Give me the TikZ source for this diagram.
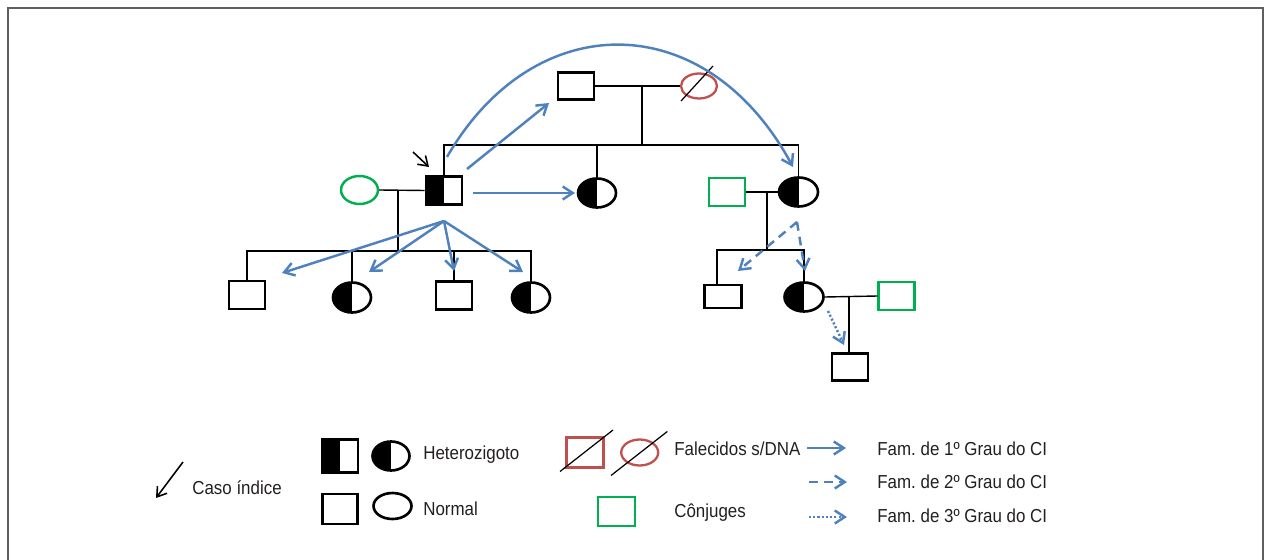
\documentclass[tikz,border=0pt]{standalone}
\usepackage{fontspec}
\setmainfont{Liberation Sans}[FakeStretch=0.9]
\usepackage{tikz}
\usetikzlibrary{positioning,shapes.geometric,arrows.meta}
\frenchspacing
\definecolor{relBlue}{RGB}{79,129,189}
\definecolor{deadRed}{RGB}{192,80,77}
\definecolor{spouseGreen}{RGB}{0,176,80}
\definecolor{frameGray}{RGB}{95,95,95}
\definecolor{textGray}{RGB}{35,31,32}
\tikzstyle{pedigree} = [x = 0.02cm, y = -0.02cm]
\tikzstyle{maleNode} = [rectangle, draw=black, fill=white, line width=1.5pt, inner sep=0pt, minimum width=0.72cm, minimum height=0.56cm]
\tikzstyle{femaleNode} = [ellipse, draw=black, fill=white, line width=1.5pt, inner sep=0pt, minimum width=0.74cm, minimum height=0.58cm]
\tikzstyle{carrier} = [path picture={\fill [black] (path picture bounding box.south west) rectangle (path picture bounding box.north);}]
\tikzstyle{spouse} = [draw=spouseGreen, line width=1.4pt]
\tikzstyle{deceased} = [draw=deadRed, line width=1.3pt]
\tikzstyle{lineage} = [color=black, line width=0.8pt]
\tikzstyle{slashLine} = [color=black, line width=0.7pt]
\tikzstyle{frameLine} = [color=frameGray, line width=1.1pt]
\tikzstyle{famFirst} = [color=relBlue, line width=1.4pt, -{Straight Barb[length=2mm, width=2.6mm]}]
\tikzstyle{famSecond} = [famFirst, dash pattern=on 5pt off 3.5pt]
\tikzstyle{famThird} = [famFirst, dash pattern=on 1.2pt off 1.2pt]
\tikzstyle{indexArrow} = [color=black, line width=0.9pt, -{Straight Barb[length=1.8mm, width=2.4mm]}]
\tikzstyle{legendText} = [anchor=base west, inner sep=0pt, text=textGray, font=\fontsize{10.7}{12}\selectfont]
\newcommand{\dropLine}[2]{\draw [lineage] (#2.north |- #1) -- (#2.north);}
\newcommand{\deceasedSlash}[3]{\draw [slashLine] ([shift={#2}]#1.center) -- ([shift={#3}]#1.center);}

\begin{document}
\begin{tikzpicture}[pedigree]
  \useasboundingbox (0,0) rectangle (1266,560);
  \coordinate (frameBL) at (8,560);
  \coordinate (frameTL) at (8,8);
  \coordinate (frameTR) at (1263,8);
  \coordinate (frameBR) at (1263,560);
  \draw [frameLine] (frameBL) -- (frameTL) -- (frameTR) -- (frameBR);

  % grandparents
  \node [maleNode, minimum height=0.54cm] (grandpa) at (576,86) {};
  \node [femaleNode, deceased, minimum width=0.72cm, minimum height=0.5cm] (grandma) at (699,86) {};
  \deceasedSlash{grandma}{(-18,15)}{(14,-20)}
  \coordinate (topMate) at (642,86);
  \coordinate (topSib) at (642,145);
  \draw [lineage] (grandpa.east) -- (grandma.west);
  \draw [lineage] (topMate) -- (topSib);

  % second generation
  \node [femaleNode, spouse, minimum height=0.56cm] (wifeA) at (359.5,190) {};
  \node [maleNode, carrier] (proband) at (444,190.5) {};
  \node [femaleNode, carrier, minimum width=0.76cm] (sisterA) at (597,193) {};
  \node [maleNode, spouse] (uncleB) at (727,192) {};
  \node [femaleNode, carrier, minimum width=0.78cm] (auntB) at (798.5,192) {};
  \draw [lineage] (proband.north) -- (proband.north |- topSib) -- (auntB.north |- topSib) -- (auntB.north);
  \dropLine{topSib}{sisterA}
  \coordinate (indexTail) at (413,152);
  \coordinate (indexTip) at (429,167);
  \draw [indexArrow] (indexTail) -- (indexTip);

  % children of the proband
  \node [maleNode] (sonA) at (247,295) {};
  \node [femaleNode, carrier, minimum width=0.76cm, minimum height=0.6cm] (daughterA) at (352,297.5) {};
  \node [maleNode] (sonB) at (454,295.5) {};
  \node [femaleNode, carrier, minimum width=0.76cm, minimum height=0.6cm] (daughterB) at (531,297.5) {};
  \coordinate (probMate) at (398,190);
  \coordinate (probSib) at (398,251);
  \draw [lineage] (wifeA.east) -- (proband.west);
  \draw [lineage] (probMate) -- (probSib);
  \draw [lineage] (sonA.north) -- (sonA.north |- probSib) -- (daughterB.north |- probSib) -- (daughterB.north);
  \dropLine{probSib}{daughterA}
  \dropLine{probSib}{sonB}

  % children of the aunt
  \node [maleNode, minimum width=0.74cm, minimum height=0.46cm] (cousinA) at (722.7,296.5) {};
  \node [femaleNode, carrier, minimum width=0.78cm] (cousinB) at (804,297) {};
  \node [maleNode, spouse] (cousinSpouse) at (896.7,296) {};
  \node [maleNode, minimum height=0.54cm] (greatSon) at (850,367) {};
  \coordinate (auntMate) at (767,192);
  \coordinate (auntSib) at (767,250);
  \coordinate (cousinADrop) at (717,250);
  \coordinate (cousinMate) at (849,297);
  \draw [lineage] (uncleB.east) -- (auntB.west);
  \draw [lineage] (auntMate) -- (auntSib);
  \draw [lineage] (cousinADrop |- cousinA.north) -- (cousinADrop) -- (cousinB.north |- auntSib) -- (cousinB.north);
  \draw [lineage] (cousinB.east) -- (cousinSpouse.west);
  \draw [lineage] (cousinMate) -- (cousinMate |- greatSon.north);

  % relatives of the index case
  \coordinate (gpaStart) at (467,169);
  \coordinate (gpaTip) at (549,103);
  \coordinate (sisStart) at (473,193);
  \coordinate (arcStart) at (447,157);
  \coordinate (arcTip) at (793,167);
  \coordinate (probFan) at (444,221);
  \coordinate (sonATip) at (282,273);
  \coordinate (daughterATip) at (369,272);
  \coordinate (sonBTip) at (454,271);
  \coordinate (daughterBTip) at (523,272);
  \coordinate (auntFan) at (797,222);
  \coordinate (cousinATip) at (738,271);
  \coordinate (cousinBTip) at (805,271);
  \coordinate (greatStart) at (828,311);
  \coordinate (greatTip) at (844,345);
  \draw [famFirst] (gpaStart) -- (gpaTip);
  \draw [famFirst, shorten >=1pt] (sisStart) -- (sisterA.west);
  \draw [famFirst] (arcStart) .. controls (534,6) and (706,6) .. (arcTip);
  \foreach \child in {sonATip, daughterATip, sonBTip, daughterBTip} {
    \draw [famFirst] (probFan) -- (\child);
  }
  \draw [famSecond] (auntFan) -- (cousinATip);
  \draw [famSecond] (auntFan) -- (cousinBTip);
  \draw [famThird] (greatStart) -- (greatTip);

  % legend
  \coordinate (caseTail) at (183,462);
  \coordinate (caseTip) at (156,498);
  \draw [indexArrow] (caseTail) -- (caseTip);
  \node [legendText] (caseText) at (192,494) {Caso índice};

  \node [maleNode, carrier, minimum height=0.66cm] (legHetMale) at (340,456) {};
  \node [femaleNode, carrier, minimum width=0.74cm, minimum height=0.58cm] (legHetFemale) at (391,456) {};
  \node [legendText] (hetText) at (423,459) {Heterozigoto};
  \node [maleNode, minimum width=0.7cm, minimum height=0.6cm] (legMale) at (340,509) {};
  \node [femaleNode, minimum width=0.76cm, minimum height=0.52cm] (legFemale) at (392.5,506) {};
  \node [legendText] (normalText) at (423,515) {Normal};

  \node [maleNode, deceased, minimum width=0.74cm, minimum height=0.6cm] (legDeadMale) at (585,452.5) {};
  \node [femaleNode, deceased, minimum width=0.74cm, minimum height=0.52cm] (legDeadFemale) at (639.7,452.5) {};
  \deceasedSlash{legDeadMale}{(-25,19)}{(28,-22.5)}
  \deceasedSlash{legDeadFemale}{(-28.7,23)}{(27.6,-21)}
  \node [legendText] (deadText) at (674,455) {Falecidos s/DNA};
  \node [maleNode, spouse, minimum width=0.74cm, minimum height=0.58cm] (legSpouse) at (616.3,511.3) {};
  \node [legendText] (spouseText) at (674,517) {Cônjuges};

  \coordinate (firstStart) at (807,448);
  \coordinate (firstTip) at (846,448);
  \coordinate (secondStart) at (809,482);
  \coordinate (secondTip) at (847,482);
  \coordinate (thirdStart) at (809,517);
  \coordinate (thirdTip) at (847,517);
  \draw [famFirst] (firstStart) -- (firstTip);
  \draw [famSecond] (secondStart) -- (secondTip);
  \draw [famThird] (thirdStart) -- (thirdTip);
  \node [legendText] (firstText) at (877,455) {Fam. de 1º Grau do CI};
  \node [legendText] (secondText) at (877,488) {Fam. de 2º Grau do CI};
  \node [legendText] (thirdText) at (877,522) {Fam. de 3º Grau do CI};
\end{tikzpicture}
\end{document}
